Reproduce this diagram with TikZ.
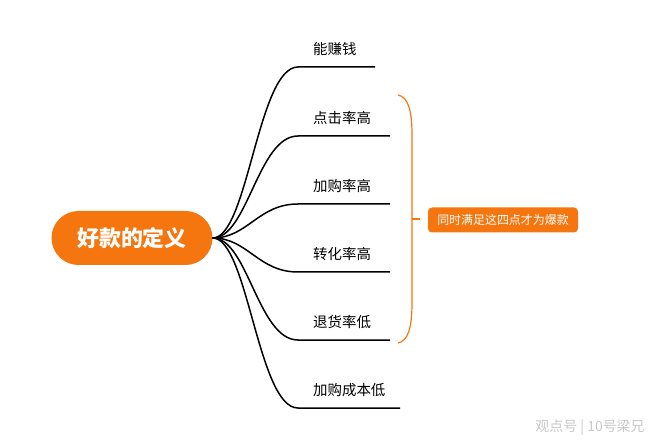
\documentclass[tikz,border=0pt]{standalone}
\usepackage{fontspec}
\setmainfont{Noto Sans CJK SC}
\definecolor{chengse}{RGB}{245,118,14}
\definecolor{qianhui}{RGB}{200,200,200}
\tikzset{
  zhuti/.style={fill=chengse, rounded corners=27bp, minimum width=161bp, minimum height=54bp,
    text=white, font=\fontsize{22}{26}\selectfont\bfseries},
  fenzhi/.style={anchor=west, inner sep=0pt, font=\fontsize{14.5}{17}\selectfont},
  xian/.style={line width=1.5bp},
}
\begin{document}
\begin{tikzpicture}[x=1bp,y=-1bp]
\useasboundingbox (0,0) rectangle (660,445);
\node[zhuti] (root) at (132,238) {好款的定义};
\foreach \y/\e/\t [count=\i] in {67/375/能赚钱, 136/390/点击率高, 204/390/加购率高,
    272/390/转化率高, 340/390/退货率低, 408/400/加购成本低} {
  \coordinate (s\i) at (298,\y);
  \coordinate (e\i) at (\e,\y);
  \node[fenzhi] (t\i) at (313,\y-18) {\t};
  \draw[xian] (root.east) .. controls +(35,0) and +(-40,0) .. (s\i) -- (e\i);
}
% kuohao
\draw[chengse, line width=1.2bp] (398,95) .. controls (408,97) and (412,110) .. (412,135)
  -- (412,303) .. controls (412,328) and (408,341) .. (398,343);
\draw[chengse, line width=1.2bp] (412,219) -- (420,219);
\node[fill=chengse, rounded corners=4bp, minimum width=150bp, minimum height=25bp, text=white,
  font=\fontsize{12}{14}\selectfont] (tiaojian) at (503,220) {同时满足这四点才为爆款};
\node[text=qianhui, font=\fontsize{14}{16}\selectfont] (shuiyin) at (590,428) {观点号 | 10号梁兄};
\end{tikzpicture}
\end{document}
